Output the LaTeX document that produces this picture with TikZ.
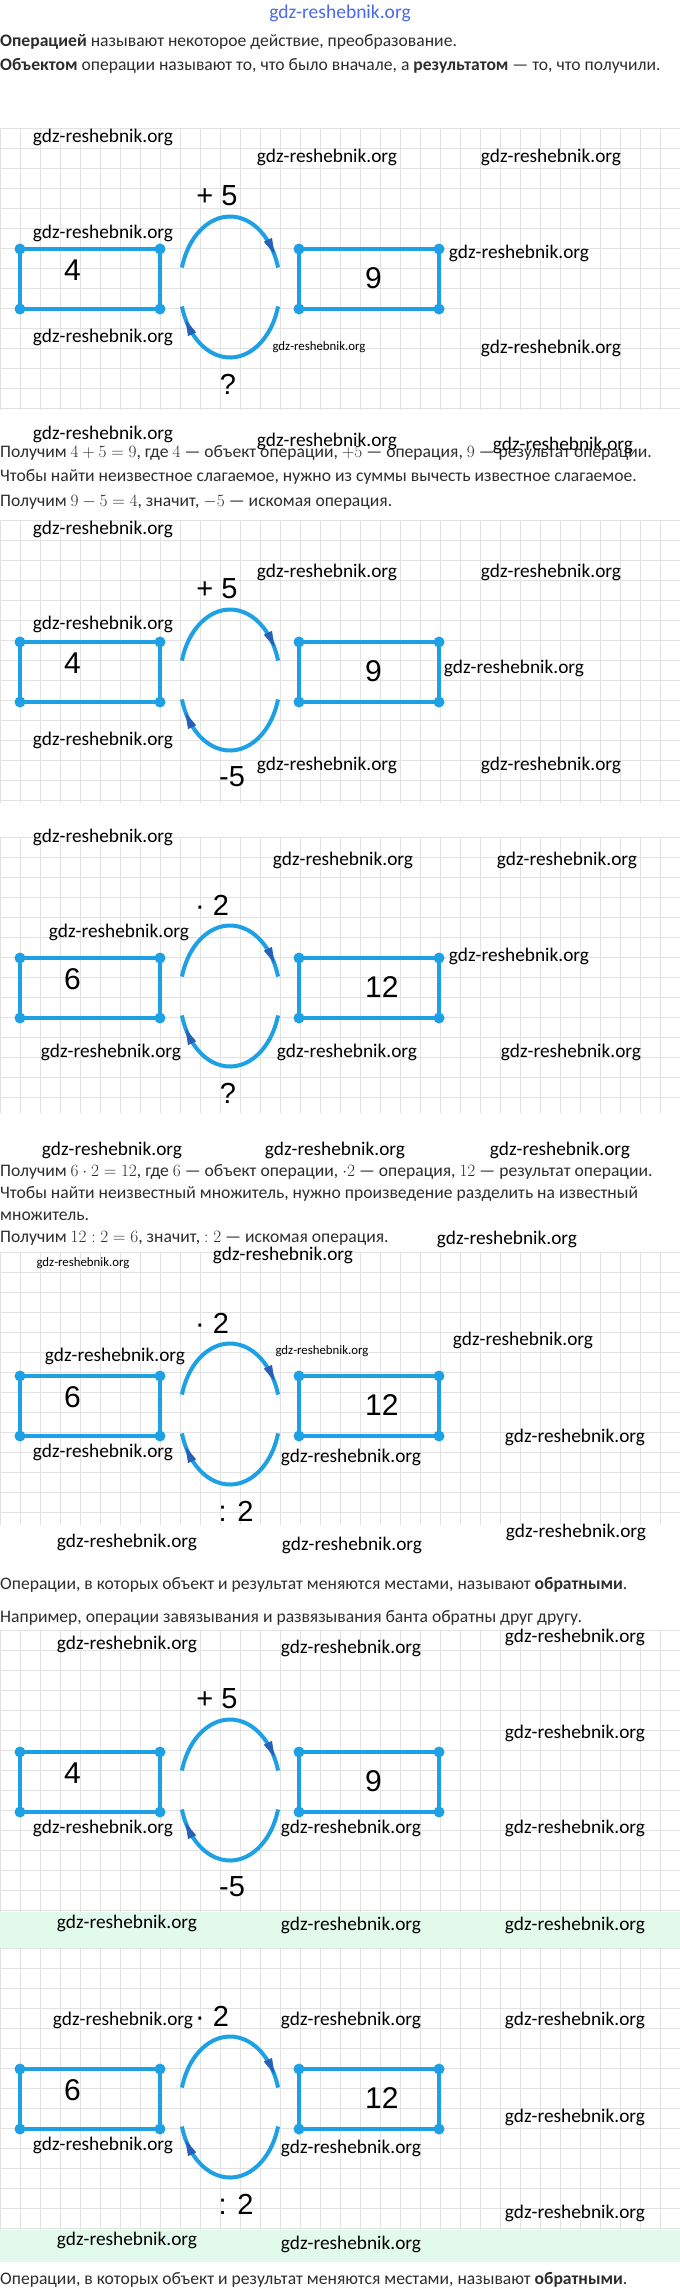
\documentclass[tikz,border=0pt]{standalone}
\usepackage[no-math]{fontspec}
\usetikzlibrary{decorations.markings}
\newfontfamily\bodyf{Carlito}
\newfontfamily\numf{Liberation Sans}
\newfontfamily\wmf{Carlito}
\definecolor{opblue}{RGB}{30,160,228}
\definecolor{opdark}{RGB}{40,95,185}
\definecolor{txtgray}{RGB}{45,45,45}
\definecolor{gridgray}{RGB}{226,226,226}
\definecolor{greenband}{RGB}{226,250,236}
\definecolor{hdrblue}{RGB}{75,105,235}
\newcommand\mth[1]{{\fontsize{18.5}{22}\selectfont$#1$}}
\tikzset{
  wm/.style={font=\wmf\fontsize{19.3}{21}\selectfont, text=black, inner sep=0pt},
  wmsmall/.style={font=\wmf\fontsize{12.8}{14}\selectfont, text=black, inner sep=0pt},
  bodytxt/.style={font=\bodyf\fontsize{17.6}{22}\selectfont, text=txtgray, anchor=west, inner sep=0pt, text height=12pt, text depth=4pt},
  opbox/.style={draw=opblue, line width=4pt, minimum width=140pt, minimum height=60pt, inner sep=0pt, outer sep=0pt},
  numtxt/.style={font=\numf\fontsize{30}{32}\selectfont, text=black, inner sep=0pt, anchor=west},
  oplbl/.style={font=\numf\fontsize{29}{31}\selectfont, text=black, inner sep=0pt},
  oparc/.style={draw=opblue, line width=4pt},
  gridln/.style={draw=gridgray, line width=0.9pt},
  arrowmark/.style={postaction={decorate, decoration={markings, mark=at position #1 with {\fill[opdark] (-10pt,-4.5pt) -- (6pt,0pt) -- (-10pt,4.5pt) -- cycle;}}}},
}
% #1 prefix, #2 top of boxes, #3 left number, #4 right number, #5 top label, #6 its x, #7 bottom label, #8 its x
\newcommand\opdiag[8]{%
  \node[opbox] (#1L) at (90,#2+30) {};
  \node[opbox] (#1R) at (369,#2+30) {};
  \foreach \cc in {north west,north east,south west,south east}{
    \fill[opblue] (#1L.\cc) circle[radius=5.5pt];
    \fill[opblue] (#1R.\cc) circle[radius=5.5pt];
  }
  \node[numtxt] (#1a) at (64,#2+21) {#3};
  \node[numtxt] (#1b) at (365,#2+29) {#4};
  \coordinate (#1C) at (230,#2+38);
  \draw[oparc, arrowmark=0.87] ([shift={(164:50pt and 70.5pt)}]#1C) arc[start angle=164, end angle=16, x radius=50pt, y radius=70.5pt];
  \draw[oparc, arrowmark=0.87] ([shift={(-16:50pt and 70.5pt)}]#1C) arc[start angle=-16, end angle=-164, x radius=50pt, y radius=70.5pt];
  \node[oplbl] (#1t) at (#6,#2-53) {#5};
  \node[oplbl] (#1u) at (#8,#2+135) {#7};
}
% #1 top, #2 bottom, #3 top+20
\newcommand\gridreg[3]{%
  \foreach \gx in {0,20,...,680} \draw[gridln] (\gx,#1) -- (\gx,#2);
  \foreach \gy in {#1,#3,...,#2} \draw[gridln] (0,\gy) -- (680,\gy);
}
\begin{document}
\begin{tikzpicture}[x=1pt,y=-1pt]
\useasboundingbox (0,0) rectangle (680,2292);
\fill[white] (0,0) rectangle (680,2292);
% grid regions
\gridreg{128}{410}{148}
\gridreg{520}{803}{540}
\gridreg{837}{1113}{857}
\gridreg{1252}{1525}{1272}
\gridreg{1630}{1912}{1650}
\gridreg{1948}{2230}{1968}
\fill[greenband] (0,1912) rectangle (680,1948);
\fill[greenband] (0,2230) rectangle (680,2262);
% header and texts
\node[font=\wmf\fontsize{19.5}{21}\selectfont, text=hdrblue, inner sep=0pt] (hdr) at (340,13) {gdz-reshebnik.org};
\node[bodytxt] (t1) at (0,42) {\textbf{Операцией} называют некоторое действие, преобразование.};
\node[bodytxt] (t2) at (0,66) {\textbf{Объектом} операции называют то, что было вначале, а \textbf{результатом} — то, что получили.};
\node[bodytxt] (a1) at (0,453) {Получим \mth{4+5=9}, где \mth{4} — объект операции, \mth{+5} — операция, \mth{9} — результат операции.};
\node[bodytxt] (a2) at (0,477) {Чтобы найти неизвестное слагаемое, нужно из суммы вычесть известное слагаемое.};
\node[bodytxt] (a3) at (0,502) {Получим \mth{9-5=4}, значит, \mth{-5} — искомая операция.};
\node[bodytxt] (b1) at (0,1172) {Получим \mth{6\cdot 2=12}, где \mth{6} — объект операции, \mth{\cdot 2} — операция, \mth{12} — результат операции.};
\node[bodytxt] (b2) at (0,1194) {Чтобы найти неизвестный множитель, нужно произведение разделить на известный};
\node[bodytxt] (b3) at (0,1216) {множитель.};
\node[bodytxt] (b4) at (0,1238) {Получим \mth{12:2=6}, значит, \mth{:2} — искомая операция.};
\node[bodytxt] (c1) at (0,1585) {Операции, в которых объект и результат меняются местами, называют \textbf{обратными}.};
\node[bodytxt] (c2) at (0,1618) {Например, операции завязывания и развязывания банта обратны друг другу.};
\node[bodytxt] (d1txt) at (0,2280) {Операции, в которых объект и результат меняются местами, называют \textbf{обратными}.};
% diagrams
\opdiag{da}{249}{4}{9}{+ 5}{217}{?}{228}
\opdiag{db}{642}{4}{9}{+ 5}{217}{-5}{232}
\opdiag{dc}{958}{6}{12}{· 2}{212}{?}{228}
\opdiag{dd}{1376}{6}{12}{· 2}{212}{: 2}{236}
\opdiag{de}{1752}{4}{9}{+ 5}{217}{-5}{232}
\opdiag{df}{2069}{6}{12}{· 2}{212}{: 2}{236}
% watermarks
\foreach \wx/\wy [count=\wi] in {103/137, 327/157, 551/157, 103/233, 519/253, 103/337, 551/348,
  103/434, 327/441, 563/445,
  103/529, 327/572, 551/572, 103/624, 514/668, 103/740, 327/765, 551/765,
  103/837, 343/860, 567/860, 119/932, 519/956, 111/1052, 347/1052, 571/1052,
  112/1150, 335/1150, 560/1150, 507/1239, 283/1255,
  523/1340, 115/1356, 575/1437, 103/1452, 351/1457,
  576/1532, 127/1542, 352/1545,
  575/1637, 127/1644, 351/1648, 575/1733, 103/1828, 351/1828, 575/1828,
  127/1923, 351/1925, 575/1925,
  123/2020, 351/2020, 575/2020, 575/2117, 103/2145, 351/2148, 575/2213,
  127/2240, 351/2244}
  \node[wm] (w\wi) at (\wx,\wy) {gdz-reshebnik.org};
\node[wmsmall] (s1) at (319,347) {gdz-reshebnik.org};
\node[wmsmall] (s2) at (83,1263) {gdz-reshebnik.org};
\node[wmsmall] (s3) at (322,1351) {gdz-reshebnik.org};
\end{tikzpicture}
\end{document}
